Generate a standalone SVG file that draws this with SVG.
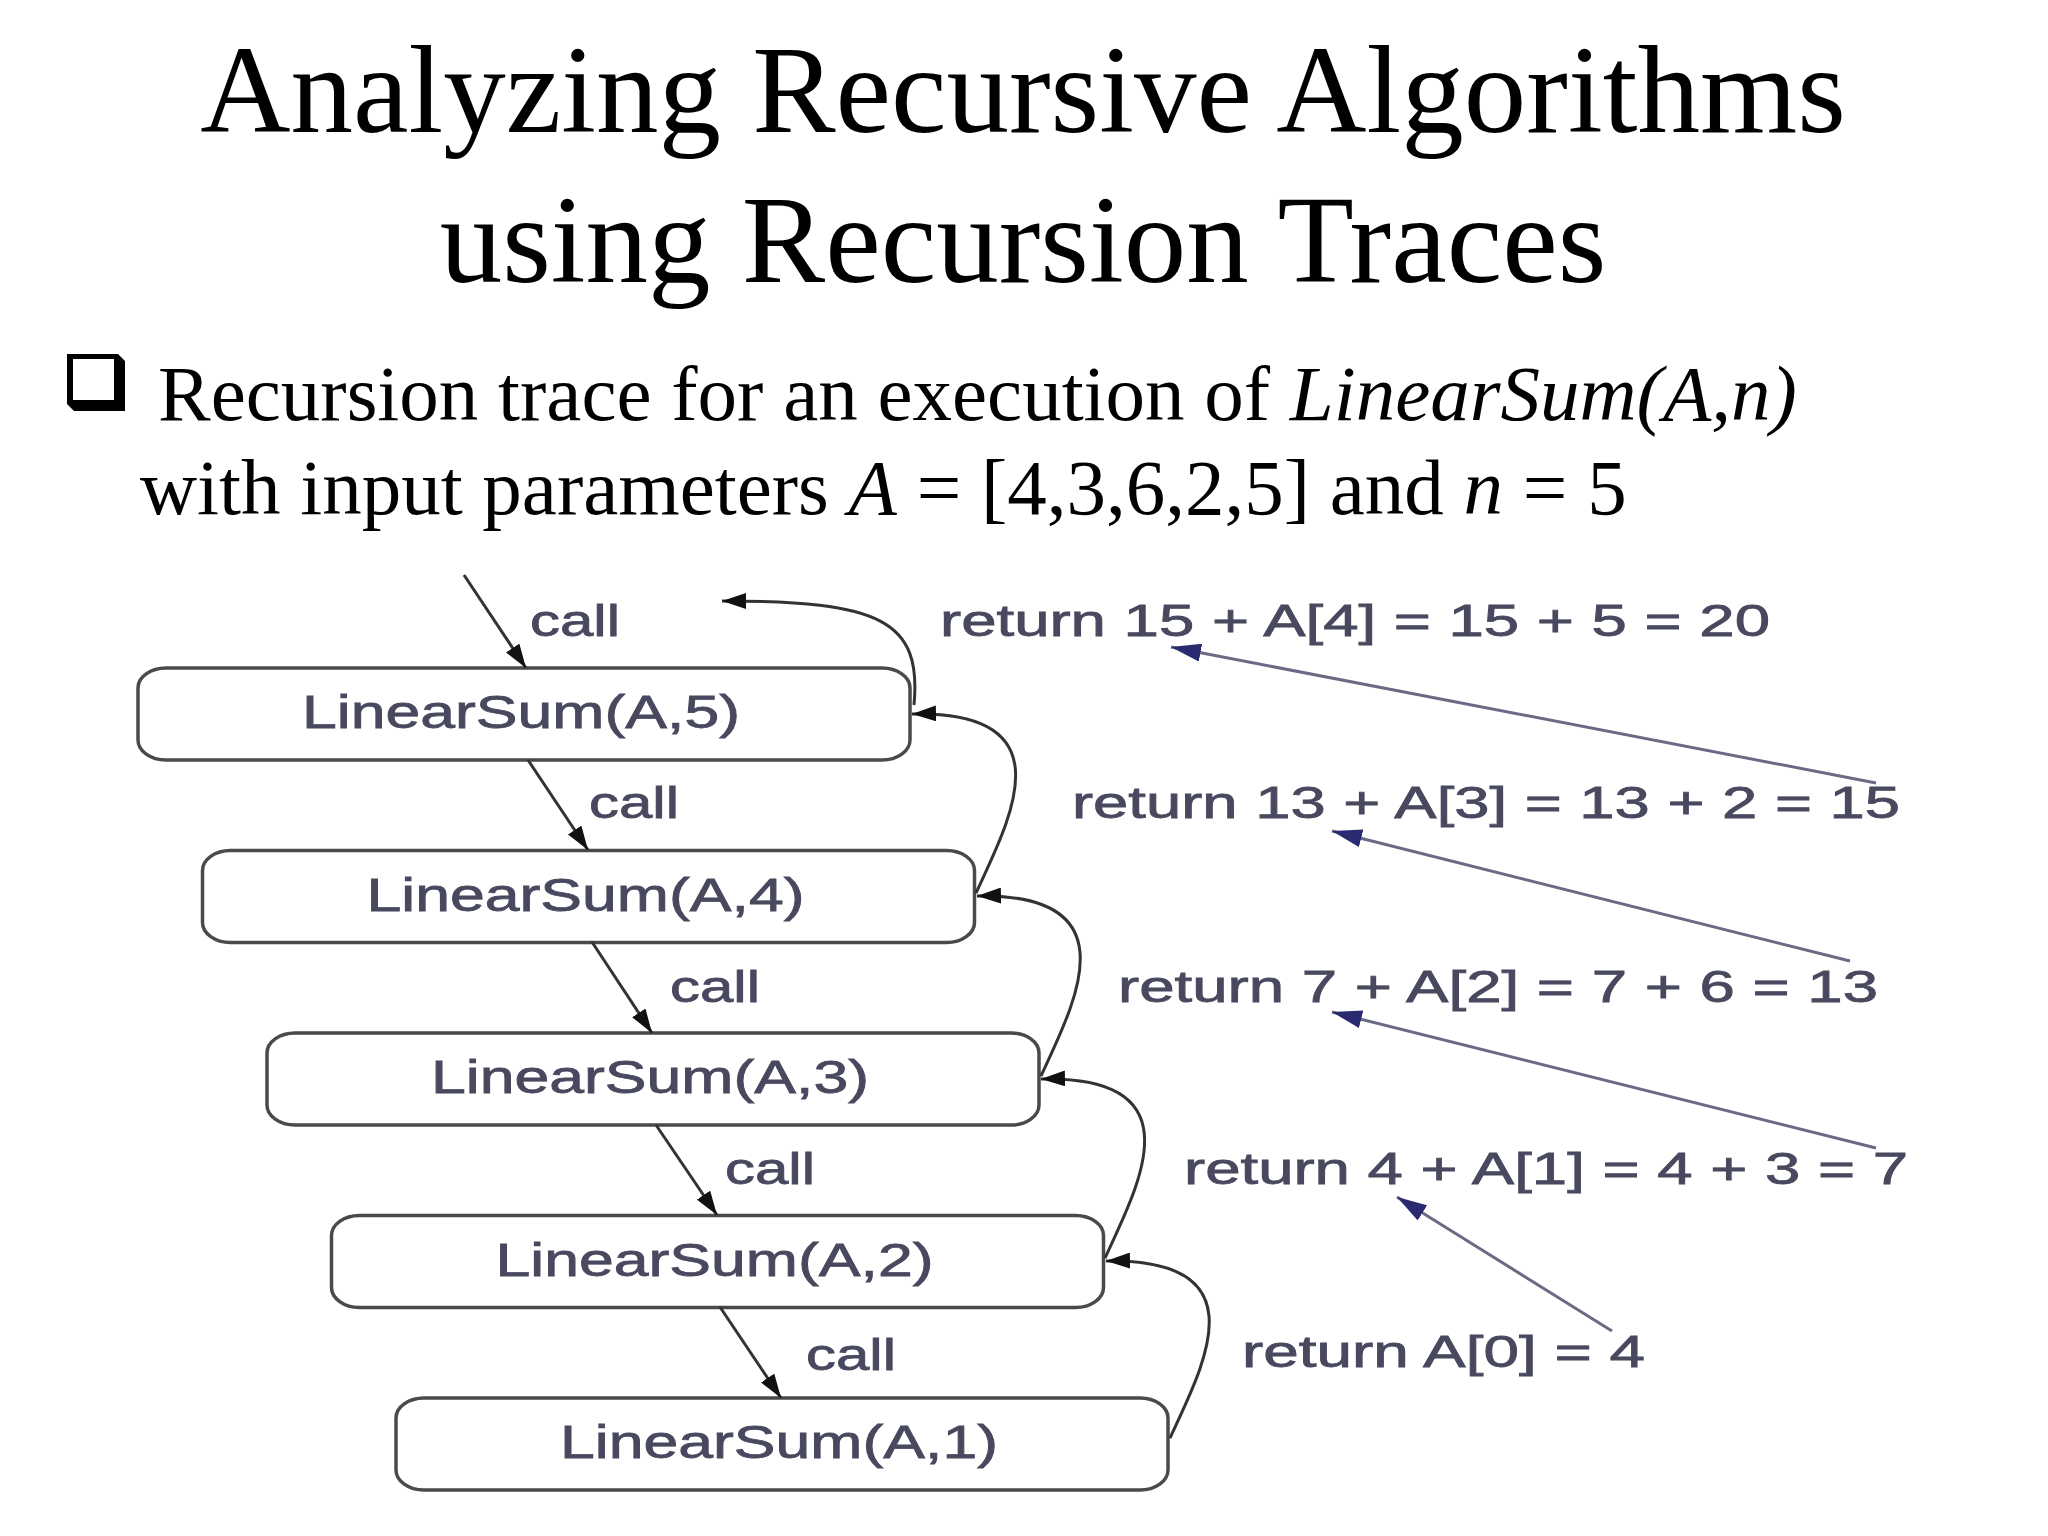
<svg xmlns="http://www.w3.org/2000/svg" width="2048" height="1536" viewBox="0 0 2048 1536">
<defs>
<style>
.title{font-family:"Liberation Serif","Times New Roman",serif;font-size:125px;fill:#000}
.body{font-family:"Liberation Serif","Times New Roman",serif;font-size:79px;fill:#000}
.it{font-style:italic}
.box rect{fill:#fff;stroke:#4a4a4a;stroke-width:3.5}
.box text{font-family:"Liberation Sans",Arial,sans-serif;font-size:46px;fill:#48485f;stroke:#48485f;stroke-width:0.8;text-anchor:middle}
.lbl{font-family:"Liberation Sans",Arial,sans-serif;font-size:45px;fill:#48485f;stroke:#48485f;stroke-width:0.8}
.call{stroke:#333;stroke-width:3;fill:none}
.ret{stroke:#333;stroke-width:3;fill:none}
.blue{stroke:#6a6a84;stroke-width:3;fill:none}
</style>
<marker id="ab" viewBox="0 0 10 10" refX="10" refY="5" markerWidth="24" markerHeight="16" markerUnits="userSpaceOnUse" orient="auto" preserveAspectRatio="none">
<path d="M0,0 L10,5 L0,10 z" fill="#111"/>
</marker>
<marker id="an" viewBox="0 0 10 10" refX="10" refY="5" markerWidth="30" markerHeight="18" markerUnits="userSpaceOnUse" orient="auto" preserveAspectRatio="none">
<path d="M0,0 L10,5 L0,10 z" fill="#2a2a70"/>
</marker>
</defs>
<rect width="2048" height="1536" fill="#fff"/>

<g id="title">
<text class="title" x="1023" y="132" text-anchor="middle">Analyzing Recursive Algorithms</text>
<text class="title" x="1023" y="282" text-anchor="middle">using Recursion Traces</text>
</g>

<g id="bullet">
<path d="M67,354 L118,354 L125,361 L125,411 L74,411 L67,404 Z" fill="#000"/>
<rect x="73" y="359" width="41" height="41" fill="#fff"/>
<text class="body" x="158" y="420">Recursion trace for an execution of <tspan class="it">LinearSum(A,n)</tspan></text>
<text class="body" x="140" y="514">with input parameters <tspan class="it">A</tspan> = [4,3,6,2,5] and <tspan class="it">n</tspan> = 5</text>
</g>

<g id="node-ls5" class="box">
<rect x="138" y="668" width="772" height="92" rx="28" ry="20"/>
<text x="521" y="728" textLength="438" lengthAdjust="spacingAndGlyphs">LinearSum(A,5)</text>
</g>
<g id="node-ls4" class="box">
<rect x="202.5" y="850.5" width="772" height="92" rx="28" ry="20"/>
<text x="585.5" y="910.5" textLength="438" lengthAdjust="spacingAndGlyphs">LinearSum(A,4)</text>
</g>
<g id="node-ls3" class="box">
<rect x="267" y="1033" width="772" height="92" rx="28" ry="20"/>
<text x="650" y="1093" textLength="438" lengthAdjust="spacingAndGlyphs">LinearSum(A,3)</text>
</g>
<g id="node-ls2" class="box">
<rect x="331.5" y="1215.5" width="772" height="92" rx="28" ry="20"/>
<text x="714.5" y="1275.5" textLength="438" lengthAdjust="spacingAndGlyphs">LinearSum(A,2)</text>
</g>
<g id="node-ls1" class="box">
<rect x="396" y="1398" width="772" height="92" rx="28" ry="20"/>
<text x="779" y="1458" textLength="438" lengthAdjust="spacingAndGlyphs">LinearSum(A,1)</text>
</g>

<g id="connectors">
<line class="call" x1="464" y1="575" x2="526" y2="668" marker-end="url(#ab)"/>
<line class="call" x1="528" y1="760" x2="588" y2="850" marker-end="url(#ab)"/>
<line class="call" x1="592" y1="942" x2="652" y2="1033" marker-end="url(#ab)"/>
<line class="call" x1="656" y1="1125" x2="717" y2="1215" marker-end="url(#ab)"/>
<line class="call" x1="720" y1="1307" x2="781" y2="1398" marker-end="url(#ab)"/>

<path class="ret" d="M914,705 C922,620 880,601 722,601" marker-end="url(#ab)"/>
<path class="ret" d="M976,893 C1009,821 1070,710 912,714" marker-end="url(#ab)"/>
<path class="ret" d="M1041,1076 C1074,1004 1134,893 977,896" marker-end="url(#ab)"/>
<path class="ret" d="M1105,1258 C1138,1186 1199,1075 1041,1079" marker-end="url(#ab)"/>
<path class="ret" d="M1170,1438 C1203,1366 1263,1258 1106,1261" marker-end="url(#ab)"/>

<line class="blue" x1="1876" y1="783" x2="1171" y2="647" marker-end="url(#an)"/>
<line class="blue" x1="1850" y1="961" x2="1332" y2="831" marker-end="url(#an)"/>
<line class="blue" x1="1876" y1="1148" x2="1332" y2="1012" marker-end="url(#an)"/>
<line class="blue" x1="1612" y1="1331" x2="1397" y2="1197" marker-end="url(#an)"/>

<text class="lbl" x="530" y="636" textLength="90" lengthAdjust="spacingAndGlyphs">call</text>
<text class="lbl" x="589" y="818" textLength="90" lengthAdjust="spacingAndGlyphs">call</text>
<text class="lbl" x="670" y="1002" textLength="90" lengthAdjust="spacingAndGlyphs">call</text>
<text class="lbl" x="725" y="1184" textLength="90" lengthAdjust="spacingAndGlyphs">call</text>
<text class="lbl" x="806" y="1370" textLength="90" lengthAdjust="spacingAndGlyphs">call</text>

<text class="lbl" x="940" y="636" textLength="830" lengthAdjust="spacingAndGlyphs">return 15 + A[4] = 15 + 5 = 20</text>
<text class="lbl" x="1072" y="818" textLength="828" lengthAdjust="spacingAndGlyphs">return 13 + A[3] = 13 + 2 = 15</text>
<text class="lbl" x="1118" y="1002" textLength="760" lengthAdjust="spacingAndGlyphs">return 7 + A[2] = 7 + 6 = 13</text>
<text class="lbl" x="1184" y="1184" textLength="724" lengthAdjust="spacingAndGlyphs">return 4 + A[1] = 4 + 3 = 7</text>
<text class="lbl" x="1242" y="1367" textLength="403" lengthAdjust="spacingAndGlyphs">return A[0] = 4</text>
</g>
</svg>
